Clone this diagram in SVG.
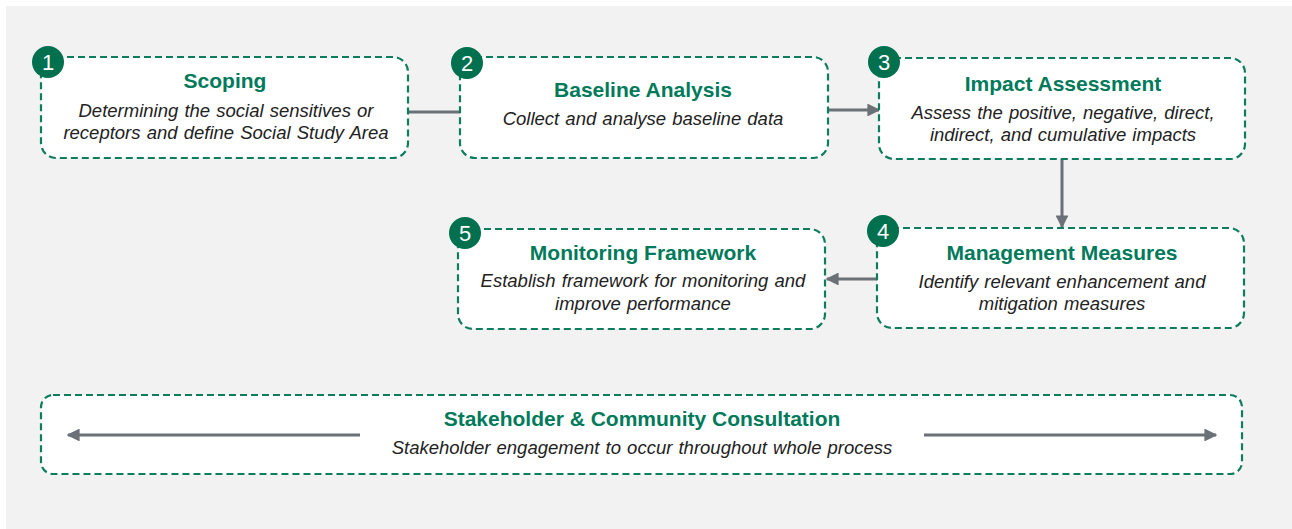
<svg xmlns="http://www.w3.org/2000/svg" width="1292" height="529" viewBox="0 0 1292 529">
<style>
.bg{fill:#f2f2f2}
.box{fill:#ffffff;stroke:#0d7d5d;stroke-width:2.2;stroke-dasharray:7 4}
.badge{fill:#00704f}
.num{font-family:"Liberation Sans",Arial,sans-serif;font-size:22px;fill:#ffffff;text-anchor:middle}
.title{font-family:"Liberation Sans",Arial,sans-serif;font-size:21px;font-weight:bold;fill:#007a5a;text-anchor:middle}
.sub{font-family:"Liberation Sans",Arial,sans-serif;font-size:18.5px;font-style:italic;fill:#222222;text-anchor:middle;word-spacing:1px}
.conn{stroke:#6b7177;stroke-width:3;fill:none}
</style>
<defs>
<marker id="ah" viewBox="0 0 10 10" refX="9" refY="5" markerWidth="4.3" markerHeight="4.3" orient="auto" markerUnits="strokeWidth">
<path d="M0,0 L10,5 L0,10 z" fill="#6b7177"/>
</marker>
</defs>
<rect class="bg" x="6" y="6" width="1286" height="523"/>
<g id="connectors">
<line class="conn" x1="408" y1="112" x2="460" y2="112"/>
<line class="conn" x1="828" y1="110" x2="879" y2="110" marker-end="url(#ah)"/>
<line class="conn" x1="1062" y1="159" x2="1062" y2="227" marker-end="url(#ah)"/>
<line class="conn" x1="877" y1="279" x2="827" y2="279" marker-end="url(#ah)"/>
</g>
<g id="node1">
<rect class="box" x="41" y="57" width="367" height="101" rx="15"/>
<circle class="badge" cx="48" cy="62" r="16"/>
<text class="num" x="48" y="70">1</text>
<text class="title" x="225" y="88">Scoping</text>
<text class="sub" x="226" y="117">Determining the social sensitives or</text>
<text class="sub" x="226" y="139">receptors and define Social Study Area</text>
</g>
<g id="node2">
<rect class="box" x="460" y="57" width="368" height="101" rx="15"/>
<circle class="badge" cx="467" cy="63" r="16"/>
<text class="num" x="467" y="71">2</text>
<text class="title" x="643" y="97">Baseline Analysis</text>
<text class="sub" x="643" y="125">Collect and analyse baseline data</text>
</g>
<g id="node3">
<rect class="box" x="879" y="58" width="366" height="101" rx="15"/>
<circle class="badge" cx="884" cy="62" r="16"/>
<text class="num" x="884" y="70">3</text>
<text class="title" x="1063" y="91">Impact Assessment</text>
<text class="sub" x="1063" y="119">Assess the positive, negative, direct,</text>
<text class="sub" x="1063" y="141">indirect, and cumulative impacts</text>
</g>
<g id="node4">
<rect class="box" x="877" y="228" width="367" height="100" rx="15"/>
<circle class="badge" cx="883" cy="231" r="16"/>
<text class="num" x="883" y="239">4</text>
<text class="title" x="1062" y="260">Management Measures</text>
<text class="sub" x="1062" y="288">Identify relevant enhancement and</text>
<text class="sub" x="1062" y="310">mitigation measures</text>
</g>
<g id="node5">
<rect class="box" x="458" y="229" width="367" height="100" rx="15"/>
<circle class="badge" cx="465" cy="233" r="16"/>
<text class="num" x="465" y="241">5</text>
<text class="title" x="643" y="260">Monitoring Framework</text>
<text class="sub" x="643" y="287">Establish framework for monitoring and</text>
<text class="sub" x="643" y="310">improve performance</text>
</g>
<g id="node6">
<rect class="box" x="41" y="395" width="1201" height="79" rx="12"/>
<text class="title" x="642" y="426">Stakeholder &amp; Community Consultation</text>
<text class="sub" x="642" y="454">Stakeholder engagement to occur throughout whole process</text>
<line class="conn" x1="360" y1="435" x2="68" y2="435" marker-end="url(#ah)"/>
<line class="conn" x1="924" y1="435" x2="1216" y2="435" marker-end="url(#ah)"/>
</g>
</svg>
